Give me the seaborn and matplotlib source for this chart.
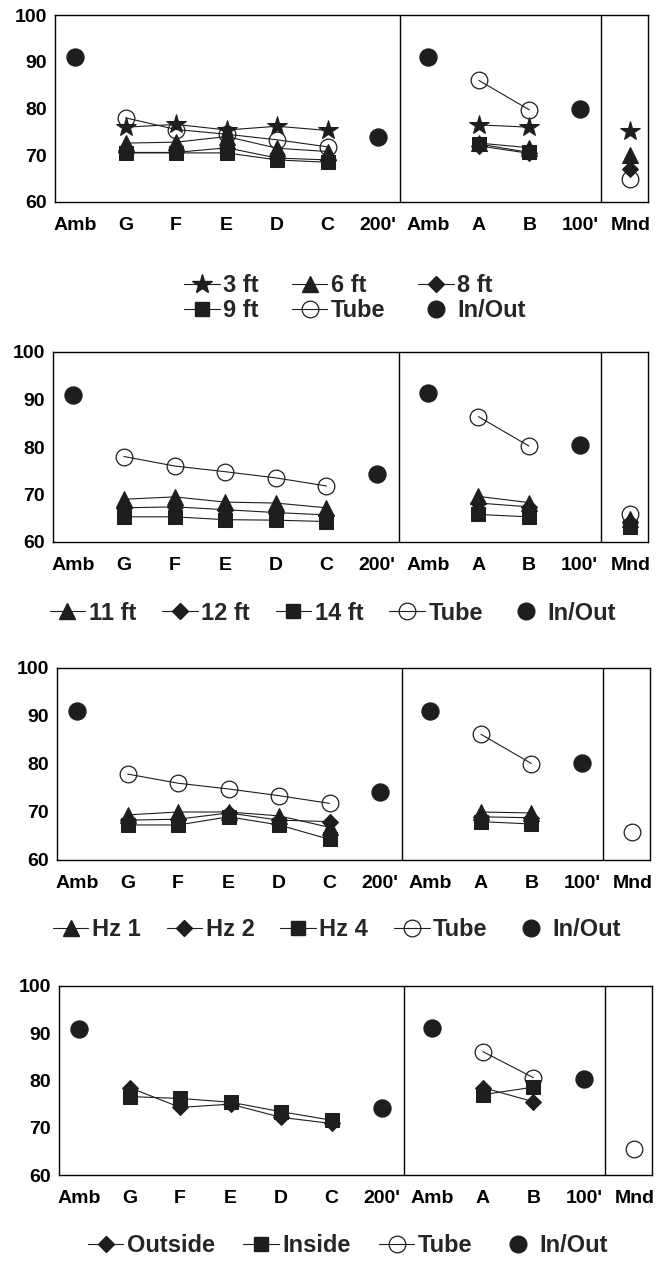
import numpy as np
import pandas as pd
import matplotlib
matplotlib.use("Agg")
import matplotlib.pyplot as plt
from matplotlib.lines import Line2D
import seaborn as sns

# ---------------- data ----------------
tick_labels = ["Amb", "G", "F", "E", "D", "C", "200'", "Amb", "A", "B", "100'", "Mnd"]
y_ticks = [60, 70, 80, 90, 100]
nan = np.nan

# In/Out values (Amb, 200', Amb, 100')
inout_p1 = [91, nan, nan, nan, nan, nan, 74, 91, nan, nan, 80, nan]
inout_p2 = [91, nan, nan, nan, nan, nan, 74.3, 91.3, nan, nan, 80.5, nan]
inout_p3 = [91, nan, nan, nan, nan, nan, 74.2, 91, nan, nan, 80.3, nan]
inout_p4 = [91, nan, nan, nan, nan, nan, 74.1, 91.1, nan, nan, 80.3, nan]

# Panel 1
ft3 = [nan, 76, 76.6, 75.4, 76.2, 75.3, nan, nan, 76.5, 76, nan, 75.2]
ft6 = [nan, 72.6, 72.8, 74, 71.5, 70.8, nan, nan, 72.6, 71.6, nan, 70]
ft8 = [nan, 70.6, 70.6, 71.6, 69.4, 69, nan, nan, 72, 70.4, nan, 67]
ft9 = [nan, 70.5, 70.5, 70.5, 69, 68.5, nan, nan, 72.4, 70.6, nan, nan]
tube_p1 = [nan, 78, 75.5, 74.5, 73.3, 71.8, nan, nan, 86, 79.7, nan, 65]

# Panel 2
ft11 = [nan, 69, 69.5, 68.4, 68.2, 67.2, nan, nan, 69.6, 68.3, nan, 64.8]
ft12 = [nan, 67.2, 67.4, 66.8, 66.2, 65.7, nan, nan, 68.2, 67.4, nan, 64.2]
ft14 = [nan, 65.3, 65.3, 64.7, 64.6, 64.3, nan, nan, 65.8, 65.3, nan, 63.2]
tube_p2 = [nan, 78, 76, 74.8, 73.5, 71.8, nan, nan, 86.4, 80.2, nan, 66]

# Panel 3
hz1 = [nan, 69.4, 70, 70, 69.2, 66.8, nan, nan, 70, 69.8, nan, nan]
hz2 = [nan, 68.3, 68.5, 69.8, 68.3, 68, nan, nan, 69, 68.8, nan, nan]
hz4 = [nan, 67.3, 67.3, 69, 67.3, 64.3, nan, nan, 68, 67.5, nan, nan]
tube_p3 = [nan, 77.9, 76, 74.8, 73.4, 71.8, nan, nan, 86.2, 80.1, nan, 65.8]

# Panel 4
outside = [nan, 78.5, 74.3, 75, 72.2, 70.9, nan, nan, 78.5, 75.5, nan, nan]
inside = [nan, 76.6, 76.2, 75.4, 73.4, 71.6, nan, nan, 77, 78.6, nan, nan]
tube_p4 = [nan, nan, nan, nan, nan, nan, nan, nan, 86.1, 80.6, nan, 65.5]

# segment ids for each x position (lines break between groups)
segments = [0, 1, 1, 1, 1, 1, 2, 3, 4, 4, 5, 6]

# ---------------- style ----------------
sns.set_theme(style="white")
plt.rcParams["font.family"] = ["Liberation Sans", "DejaVu Sans"]
plt.rcParams["font.weight"] = "bold"
plt.rcParams["axes.edgecolor"] = "black"
plt.rcParams["axes.linewidth"] = 1.0

INK = "#1e1e1e"
MK = {
    "star": dict(marker="*", ms=15, mfc=INK, mec=INK),
    "tri": dict(marker="^", ms=11, mfc=INK, mec=INK),
    "dia": dict(marker="D", ms=8, mfc=INK, mec=INK),
    "sq": dict(marker="s", ms=10, mfc=INK, mec=INK),
    "tube": dict(marker="o", ms=12, mfc="none", mec=INK, mew=0.9),
    "io": dict(marker="o", ms=12, mfc=INK, mec=INK),
}

fig = plt.figure(figsize=(6.65, 12.61), dpi=100)

W, H = 665.0, 1261.0
panels = [
    # (left, right, top, bottom) in px, series list, legend (cx, cy), ncol, colspacing
    (55, 648, 15, 202,
     [("3 ft", ft3, "star"), ("6 ft", ft6, "tri"), ("8 ft", ft8, "dia"),
      ("9 ft", ft9, "sq"), ("Tube", tube_p1, "tube"), ("In/Out", inout_p1, "io")],
     (355, 298), 3, 1.4),
    (53, 648, 352, 542,
     [("11 ft", ft11, "tri"), ("12 ft", ft12, "dia"), ("14 ft", ft14, "sq"),
      ("Tube", tube_p2, "tube"), ("In/Out", inout_p2, "io")],
     (333, 613), 5, 1.1),
    (57, 650, 668, 860,
     [("Hz 1", hz1, "tri"), ("Hz 2", hz2, "dia"), ("Hz 4", hz4, "sq"),
      ("Tube", tube_p3, "tube"), ("In/Out", inout_p3, "io")],
     (337, 930), 5, 1.1),
    (59, 652, 986, 1175,
     [("Outside", outside, "dia"), ("Inside", inside, "sq"),
      ("Tube", tube_p4, "tube"), ("In/Out", inout_p4, "io")],
     (348, 1246), 4, 1.2),
]

x_idx = np.arange(len(tick_labels))

for (l, r, t, b, series, (lcx, lcy), ncol, csp) in panels:
    ax = fig.add_axes([l / W, 1 - b / H, (r - l) / W, (b - t) / H])
    order = sorted(series, key=lambda s: {"tube": 0, "io": 2}.get(s[2], 1))
    for name, vals, mk in order:
        df = pd.DataFrame({"x": x_idx, "y": vals, "seg": segments}).dropna()
        if mk == "io":
            sns.scatterplot(data=df, x="x", y="y", ax=ax, color=INK,
                            s=150, marker="o", edgecolor=INK, zorder=5,
                            legend=False)
        else:
            sns.lineplot(data=df, x="x", y="y", units="seg", estimator=None,
                         sort=False, ax=ax, color=INK, lw=0.8,
                         legend=False, zorder=3 if mk != "tube" else 2,
                         **MK[mk])
    ax.axvline(6.44, color="black", lw=1.0)
    ax.axvline(10.42, color="black", lw=1.0)
    ax.set_xlim(-0.4, 11.35)
    ax.set_ylim(60, 100)
    ax.set_xticks(x_idx)
    ax.set_xticklabels(tick_labels)
    ax.set_yticks(y_ticks)
    ax.set_xlabel("")
    ax.set_ylabel("")
    ax.tick_params(axis="both", direction="in", length=4, width=0.8,
                   colors="black", labelsize=14)
    ax.tick_params(axis="x", pad=11)
    ax.tick_params(axis="y", pad=6)
    for s in ax.spines.values():
        s.set_visible(True)
        s.set_color("black")
        s.set_linewidth(1.0)

    handles = []
    for name, vals, mk in series:
        if mk == "io":
            h = Line2D([], [], linestyle="none", color=INK, **MK[mk])
        else:
            h = Line2D([], [], color=INK, lw=0.8, **MK[mk])
        handles.append((h, name))
    if ncol == 3:
        nrow = 2
        reordered = []
        for c in range(ncol):
            for rr in range(nrow):
                reordered.append(handles[rr * ncol + c])
        handles = reordered
    fig.legend([h for h, _ in handles], [n for _, n in handles],
               loc="center", bbox_to_anchor=(lcx / W, 1 - lcy / H),
               ncol=ncol, frameon=False,
               prop={"size": 17, "weight": "bold"}, handlelength=1.5,
               handletextpad=0.15, columnspacing=csp, labelspacing=0.1,
               borderpad=0.1)

fig.savefig("out.png", dpi=100, facecolor="white")
